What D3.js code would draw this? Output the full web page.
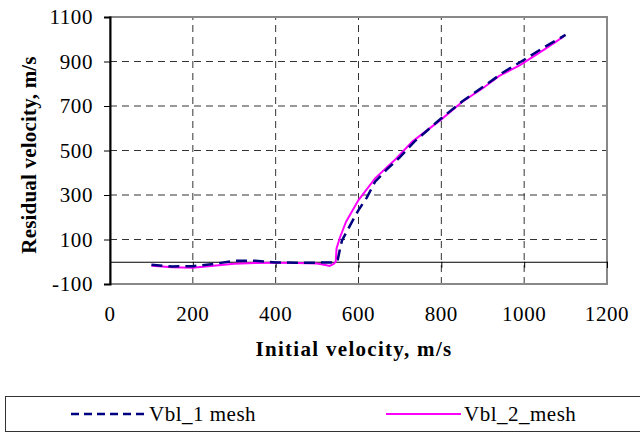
<!DOCTYPE html>
<html>
<head>
<meta charset="utf-8">
<script src="https://cdn.jsdelivr.net/npm/d3@7"></script>
<style>
  body { margin: 0; background: #fff; }
  svg text { font-family: "Liberation Serif", "Times New Roman", "DejaVu Serif", serif; }
</style>
</head>
<body>
<div id="chart"></div>
<script>
// data
const v1 = [100, 150, 200, 250, 300, 350, 400, 450, 500, 540, 550, 555, 560, 580, 600, 620, 640, 670, 700, 735, 800, 850, 900, 950, 1000, 1050, 1100];
const r1 = [-14, -21, -20, -10, 4, 5, -3, -4, -4, -3, 10, 55, 95, 165, 232, 288, 360, 418, 470, 540, 645, 720, 785, 852, 908, 966, 1020];
const v2 = [100, 150, 200, 250, 300, 350, 400, 450, 500, 520, 530, 540, 545, 547, 555, 570, 600, 640, 690, 730, 800, 850, 900, 940, 990, 1050, 1095];
const r2 = [-18, -25, -27, -18, -9, -6, -5, -6, -8, -15, -19, -10, 0, 60, 108, 180, 277, 375, 462, 540, 640, 718, 780, 835, 884, 956, 1012];
const xTicks = [0, 200, 400, 600, 800, 1000, 1200];
const yTicks = [-100, 100, 300, 500, 700, 900, 1100];
const seriesNames = ['Vbl_1 mesh', 'Vbl_2_mesh'];

const FONT = '"Liberation Serif", "Times New Roman", serif';
const width = 640, height = 432;
const margin = { left: 110, right: 33, top: 17, bottom: 148 };

const svg = d3.select('#chart').append('svg')
    .attr('width', width)
    .attr('height', height)
    .attr('font-family', FONT);

const x = d3.scaleLinear().domain([0, 1200]).range([margin.left, width - margin.right]);
const y = d3.scaleLinear().domain([-100, 1100]).range([height - margin.bottom, margin.top]);

// grid lines
svg.append('g')
    .selectAll('line')
    .data(yTicks.slice(1, -1))
    .enter().append('line')
    .attr('x1', x(0)).attr('x2', x(1200))
    .attr('y1', d => y(d)).attr('y2', d => y(d))
    .attr('stroke', '#333')
    .attr('stroke-dasharray', '7,5');

svg.append('g')
    .selectAll('line')
    .data(xTicks.slice(1, -1))
    .enter().append('line')
    .attr('y1', y(-100)).attr('y2', y(1100))
    .attr('x1', d => x(d)).attr('x2', d => x(d))
    .attr('stroke', '#333')
    .attr('stroke-dasharray', '7,5');

// frame (gray)
svg.append('rect')
    .attr('x', x(0)).attr('y', y(1100))
    .attr('width', x(1200) - x(0))
    .attr('height', y(-100) - y(1100))
    .attr('fill', 'none')
    .attr('stroke', '#888')
    .attr('stroke-width', 2);

// y axis
const yAxis = svg.append('g')
    .attr('transform', `translate(${x(0)},0)`)
    .call(d3.axisLeft(y).tickValues(yTicks).tickSize(6).tickPadding(11).tickFormat(d => String(d)));
yAxis.attr('font-family', FONT).attr('font-size', 21);
yAxis.select('.domain').attr('stroke', '#000').attr('stroke-width', 2);
yAxis.selectAll('.tick line').attr('stroke', '#000');
yAxis.selectAll('text').attr('fill', '#000').attr('letter-spacing', 0.6);

// x axis through zero
const xAxis = svg.append('g')
    .attr('transform', `translate(0,${y(0)})`)
    .call(d3.axisBottom(x).tickValues(xTicks).tickSize(6).tickFormat(''));
xAxis.select('.domain').attr('stroke', '#000').attr('stroke-width', 1);
xAxis.selectAll('.tick line').attr('stroke', '#000');

// x tick labels sit below the plot
svg.append('g')
    .selectAll('text')
    .data(xTicks)
    .enter().append('text')
    .attr('x', d => x(d))
    .attr('y', y(-100) + 37)
    .attr('text-anchor', 'middle')
    .attr('font-size', 21)
    .attr('letter-spacing', 0.6)
    .text(d => d);

// axis titles
svg.append('text')
    .attr('x', 354)
    .attr('y', 356)
    .attr('text-anchor', 'middle')
    .attr('font-size', 21)
    .attr('font-weight', 'bold')
    .attr('letter-spacing', 1.3)
    .text('Initial velocity, m/s');

svg.append('text')
    .attr('transform', `translate(36,155) rotate(-90)`)
    .attr('text-anchor', 'middle')
    .attr('font-size', 21)
    .attr('font-weight', 'bold')
    .attr('letter-spacing', 0.2)
    .text('Residual velocity, m/s');

// lines
const line = d3.line().x(d => x(d[0])).y(d => y(d[1]));

svg.append('path')
    .datum(v2.map((d, i) => [d, r2[i]]))
    .attr('fill', 'none')
    .attr('stroke', '#ff00ff')
    .attr('stroke-width', 2)
    .attr('d', line);

svg.append('path')
    .datum(v1.map((d, i) => [d, r1[i]]))
    .attr('fill', 'none')
    .attr('stroke', '#000080')
    .attr('stroke-width', 2.5)
    .attr('stroke-dasharray', '11,6')
    .attr('d', line);

// legend
const lg = svg.append('g');
lg.append('rect')
    .attr('x', 5.5).attr('y', 396.5)
    .attr('width', 640).attr('height', 35)
    .attr('fill', '#fff')
    .attr('stroke', '#333');

const legendItems = [
    { name: seriesNames[0], x0: 71, color: '#000080', dash: '8,5', w: 2.5 },
    { name: seriesNames[1], x0: 386, color: '#ff00ff', dash: null, w: 2 }
];
legendItems.forEach(it => {
    lg.append('line')
        .attr('x1', it.x0).attr('x2', it.x0 + 75)
        .attr('y1', 414).attr('y2', 414)
        .attr('stroke', it.color)
        .attr('stroke-width', it.w)
        .attr('stroke-dasharray', it.dash);
    lg.append('text')
        .attr('x', it.x0 + 78)
        .attr('y', 421)
        .attr('font-size', 21)
        .attr('letter-spacing', 0.5)
        .text(it.name);
});
</script>
</body>
</html>
